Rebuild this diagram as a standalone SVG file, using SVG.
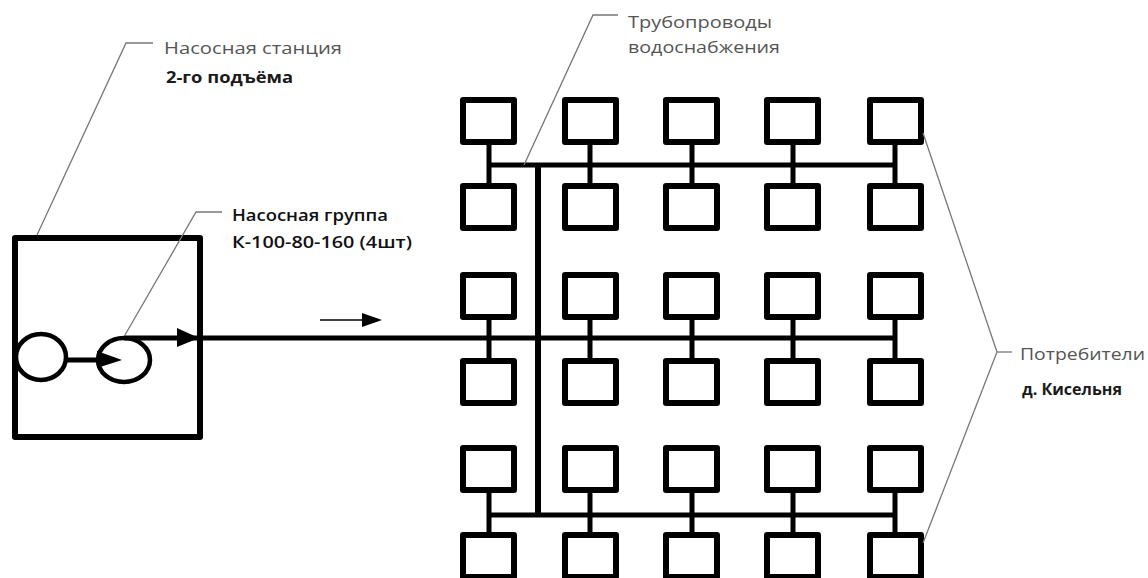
<svg xmlns="http://www.w3.org/2000/svg" width="1148" height="578" viewBox="0 0 1148 578">
<style>
.bx{fill:none;stroke:#000;stroke-width:6;stroke-linejoin:round}
.pipe{stroke:#000;stroke-width:5;fill:none}
.lead{stroke:#777;stroke-width:1.3;fill:none}
.lbl{font-family:"Open Sans","Liberation Sans",sans-serif;font-size:17px;fill:#555}
.bld{font-family:"Open Sans","Liberation Sans",sans-serif;font-size:16px;font-weight:bold;fill:#1a1a1a}
.med{font-family:"Open Sans","Liberation Sans",sans-serif;font-size:17px;font-weight:600;fill:#111}
</style>
<defs>
<rect id="c" class="bx" x="0" y="0" width="51" height="42"/>
</defs>
<rect width="1148" height="578" fill="#fff"/>

<g id="pump-station">
<rect class="bx" x="15" y="238" width="185" height="199"/>
<ellipse cx="41" cy="357" rx="25" ry="23" fill="none" stroke="#000" stroke-width="4.5"/>
<ellipse cx="124" cy="360" rx="26" ry="22" fill="none" stroke="#000" stroke-width="4.5"/>
<line class="pipe" x1="66" y1="360" x2="100" y2="360"/>
<polygon points="97,351 122,360 97,368" fill="#000"/>
</g>

<g id="connectors">
<line class="pipe" x1="124" y1="338" x2="897" y2="338"/>
<polygon points="177,328 199,338 177,347" fill="#000"/>
<line class="pipe" x1="488" y1="165" x2="897" y2="165"/>
<line class="pipe" x1="488" y1="515" x2="897" y2="515"/>
<line stroke="#000" stroke-width="6" x1="538" y1="163" x2="538" y2="517"/>
<g class="pipe">
<path d="M489 142V186M590 142V186M692 142V186M793 142V186M895 142V186"/>
<path d="M489 316V361M590 316V361M692 316V361M793 316V361M895 316V361"/>
<path d="M489 490V535M590 490V535M692 490V535M793 490V535M895 490V535"/>
</g>
<line stroke="#000" stroke-width="1.6" x1="320" y1="320" x2="365" y2="320"/>
<polygon points="362,313 382,320 362,327" fill="#000"/>
</g>

<g id="consumers">
<use href="#c" x="463" y="100"/><use href="#c" x="565" y="100"/><use href="#c" x="666" y="100"/><use href="#c" x="767" y="100"/><use href="#c" x="870" y="100"/>
<use href="#c" x="463" y="186"/><use href="#c" x="565" y="186"/><use href="#c" x="666" y="186"/><use href="#c" x="767" y="186"/><use href="#c" x="870" y="186"/>
<use href="#c" x="463" y="275"/><use href="#c" x="565" y="275"/><use href="#c" x="666" y="275"/><use href="#c" x="767" y="275"/><use href="#c" x="870" y="275"/>
<use href="#c" x="463" y="361"/><use href="#c" x="565" y="361"/><use href="#c" x="666" y="361"/><use href="#c" x="767" y="361"/><use href="#c" x="870" y="361"/>
<use href="#c" x="463" y="448"/><use href="#c" x="565" y="448"/><use href="#c" x="666" y="448"/><use href="#c" x="767" y="448"/><use href="#c" x="870" y="448"/>
<use href="#c" x="463" y="535"/><use href="#c" x="565" y="535"/><use href="#c" x="666" y="535"/><use href="#c" x="767" y="535"/><use href="#c" x="870" y="535"/>
</g>

<g id="label-station">
<polyline class="lead" points="37,235 126,43 153,43"/>
<text class="lbl" x="164" y="54" textLength="178" lengthAdjust="spacingAndGlyphs">Насосная станция</text>
<text class="bld" x="166" y="83" textLength="127" lengthAdjust="spacingAndGlyphs">2-го подъёма</text>
</g>

<g id="label-group">
<polyline class="lead" points="125,335 196,212 222,212"/>
<text class="med" x="232" y="221" textLength="156" lengthAdjust="spacingAndGlyphs">Насосная группа</text>
<text class="med" x="232" y="248" textLength="180" lengthAdjust="spacingAndGlyphs">К-100-80-160 (4шт)</text>
</g>

<g id="label-pipes">
<polyline class="lead" points="524,165 593,15 618,15"/>
<text class="lbl" x="628" y="28" textLength="144" lengthAdjust="spacingAndGlyphs">Трубопроводы</text>
<text class="lbl" x="628" y="53" textLength="152" lengthAdjust="spacingAndGlyphs">водоснабжения</text>
</g>

<g id="label-consumers">
<polyline class="lead" points="923,133 997,352 923,543"/>
<line class="lead" x1="997" y1="352" x2="1012" y2="352"/>
<text class="lbl" x="1020" y="360" textLength="125" lengthAdjust="spacingAndGlyphs">Потребители</text>
<text class="bld" x="1022" y="395" textLength="100" lengthAdjust="spacingAndGlyphs">д. Кисельня</text>
</g>
</svg>
